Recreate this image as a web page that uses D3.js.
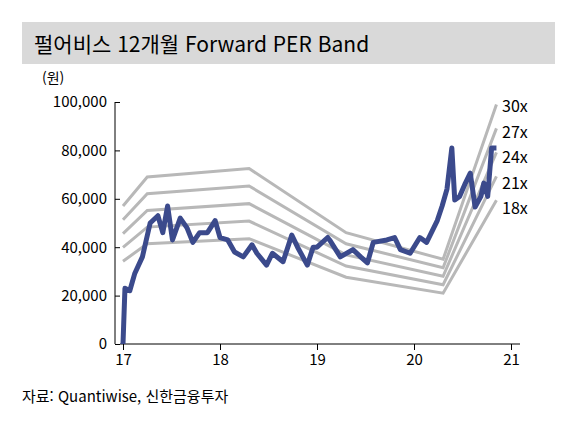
<!DOCTYPE html>
<html lang="ko">
<head>
<meta charset="UTF-8">
<script src="https://d3js.org/d3.v7.min.js"></script>
<style>
  body { margin: 0; background: #fff; font-family: "Noto Sans CJK KR", "Noto Sans", sans-serif; }
  .axis text { font-size: 15px; fill: #000; font-family: "Noto Sans CJK KR", sans-serif; }
  .axis path, .axis line { stroke: #000; }
</style>
</head>
<body>
<svg id="chart" width="577" height="426"></svg>
<script>
// Band points (year, price in won)
const bandYears = [17.0, 17.25, 18.3, 19.3, 20.3, 20.85];
const band30 = [57000, 69000, 72500, 46000, 35000, 99000];
const band27 = [51300, 62100, 65300, 41400, 31500, 89100];
const band24 = [45600, 55200, 58000, 36800, 28000, 79200];
const band21 = [39900, 48300, 50800, 32200, 24500, 69300];
const band18 = [34200, 41400, 43500, 27600, 21000, 59400];
const bandLabels = ["30x", "27x", "24x", "21x", "18x"];

// Share price
const priceYears = [17.0, 17.02, 17.07, 17.12, 17.2, 17.28, 17.36, 17.41, 17.46, 17.51, 17.59, 17.66, 17.72, 17.79, 17.87, 17.95, 18.0, 18.08, 18.15, 18.24, 18.33, 18.38, 18.48, 18.54, 18.65, 18.74, 18.8, 18.9, 18.96, 19.0, 19.11, 19.13, 19.24, 19.37, 19.45, 19.52, 19.58, 19.72, 19.8, 19.86, 19.96, 20.06, 20.13, 20.24, 20.29, 20.34, 20.39, 20.42, 20.47, 20.53, 20.58, 20.63, 20.69, 20.72, 20.76, 20.8, 20.85];
const priceValues = [0, 23000, 22000, 29000, 36000, 50000, 53000, 46000, 57000, 43000, 52000, 48000, 42000, 46000, 46000, 51000, 44000, 43000, 38000, 36000, 41000, 37500, 32600, 37500, 34000, 45000, 40000, 32600, 40000, 40000, 44000, 43000, 36000, 39000, 36000, 33500, 42000, 43000, 44000, 39000, 37500, 44000, 42000, 51000, 57000, 64000, 81000, 59500, 61000, 66500, 70600, 56600, 61000, 66500, 61000, 81000, 81000];

const yTicks = [0, 20000, 40000, 60000, 80000, 100000];
const xTicks = [17, 18, 19, 20, 21];

const svg = d3.select('#chart');

// Title bar
svg.append('rect').attr('x', 22).attr('y', 22).attr('width', 533).attr('height', 42).attr('fill', '#d9d9d9');
svg.append('text').attr('x', 34).attr('y', 52).attr('font-size', 21)
  .text('펄어비스 12개월 Forward PER Band');

const x = d3.scaleLinear().domain([17, 21]).range([123, 511]);
const y = d3.scaleLinear().domain([0, 100000]).range([344, 102]);

svg.append('text').attr('x', 42).attr('y', 83).attr('font-size', 14).text('(원)');

// Axes
svg.append('g').attr('class', 'axis')
  .attr('transform', 'translate(120,0)')
  .call(d3.axisLeft(y).tickValues(yTicks).tickFormat(d3.format(',')).tickSize(5).tickPadding(8))
  .call(g => g.select('.domain').attr('d', 'M-5,344V102'));

svg.append('g').attr('class', 'axis')
  .attr('transform', 'translate(0,344)')
  .call(d3.axisBottom(x).tickValues(xTicks).tickFormat(d3.format('d')).tickSize(6).tickPadding(4))
  .call(g => g.select('.domain').attr('d', 'M120,0H520'));

// Bands
const line = d3.line().x(d => x(d[0])).y(d => y(d[1]));
const bands = [band30, band27, band24, band21, band18];
bands.forEach((b, i) => {
  svg.append('path')
    .datum(bandYears.map((t, j) => [t, b[j]]))
    .attr('d', line).attr('fill', 'none')
    .attr('stroke', '#b8b8b8').attr('stroke-width', 3);
  svg.append('text').attr('x', 502).attr('y', 112 + i * 25.5)
    .attr('font-size', 16).text(bandLabels[i]);
});

// Price
svg.append('path')
  .datum(priceYears.map((t, j) => [t, priceValues[j]]))
  .attr('d', line).attr('fill', 'none')
  .attr('stroke', '#3b4a8c').attr('stroke-width', 5).attr('stroke-linejoin', 'round');

// Source
svg.append('text').attr('x', 22).attr('y', 402).attr('font-size', 15)
  .text('자료: Quantiwise, 신한금융투자');
</script>
</body>
</html>
